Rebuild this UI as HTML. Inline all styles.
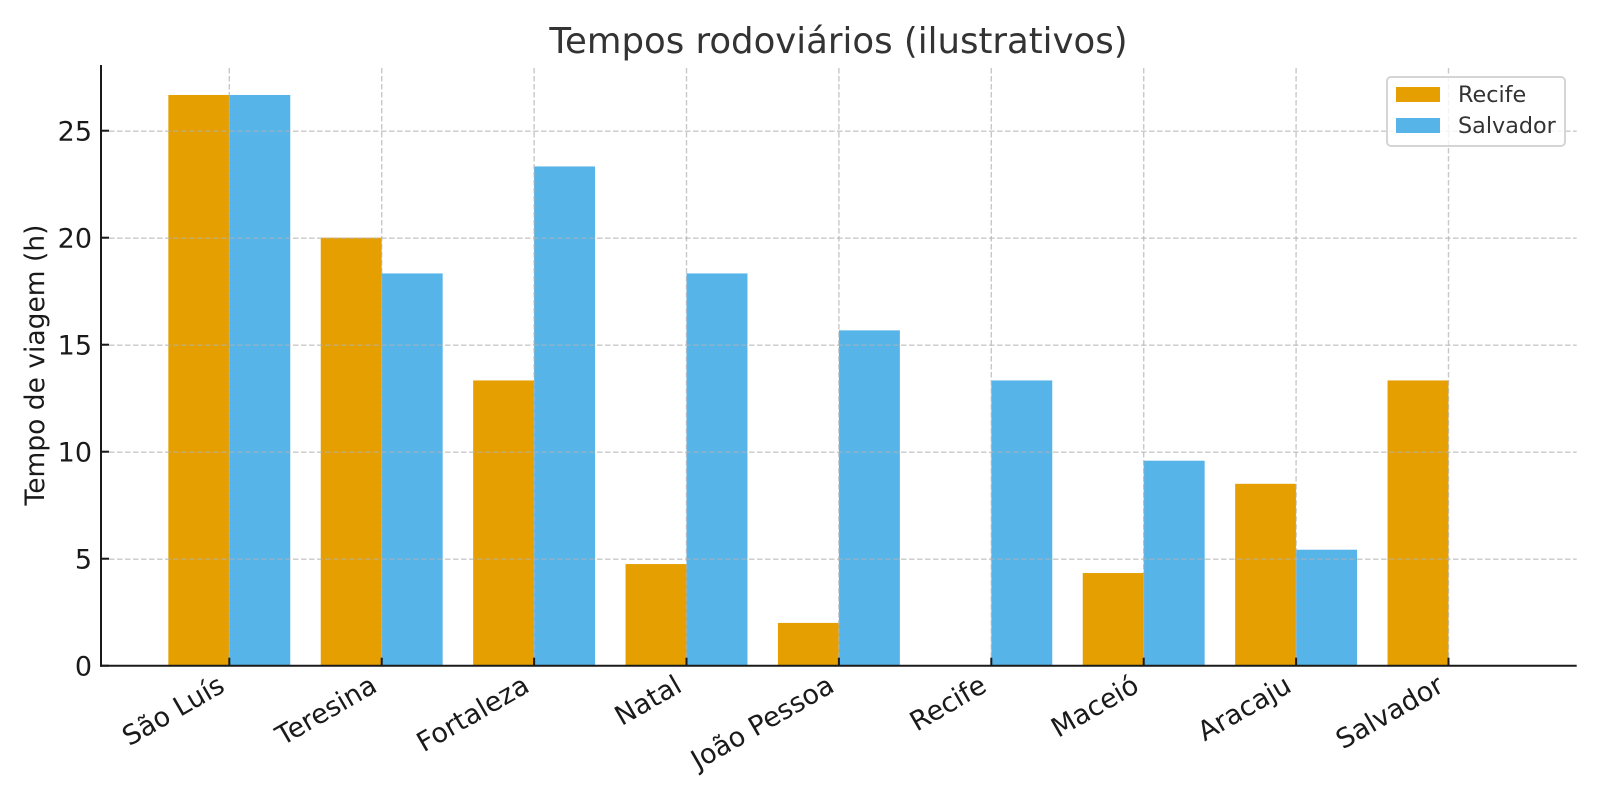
<!DOCTYPE html>
<html lang="pt">
<head>
<meta charset="utf-8">
<title>Tempos rodoviários (ilustrativos)</title>
<style>
html,body{margin:0;padding:0;background:#fff;width:1600px;height:800px;overflow:hidden}
svg{display:block}
text{font-family:"DejaVu Sans","Liberation Sans",sans-serif}
</style>
</head>
<body>
<svg id="chart" xmlns="http://www.w3.org/2000/svg" width="1600" height="800" viewBox="0 0 1600 800">
  <rect x="0" y="0" width="1600" height="800" fill="#ffffff"/>
  <g id="bars"></g>
  <g id="grid"></g>
  <g id="ticks"></g>
  <line x1="101" y1="65" x2="101" y2="666.7" stroke="#1a1a1a" stroke-width="2"/>
  <line x1="100" y1="665.7" x2="1576.7" y2="665.7" stroke="#1a1a1a" stroke-width="2"/>
  <text x="838.5" y="53" font-size="35.5" fill="#333333" text-anchor="middle">Tempos rodoviários (ilustrativos)</text>
  <text transform="translate(44,365) rotate(-90)" font-size="26.5" fill="#1a1a1a" text-anchor="middle">Tempo de viagem (h)</text>
  <g>
    <rect x="1387" y="77" width="178" height="69" rx="4" ry="4" fill="#ffffff" fill-opacity="0.8" stroke="#d5d5d5" stroke-width="2"/>
    <rect x="1396" y="87" width="44" height="15" fill="#E69F00"/>
    <text x="1458" y="102" font-size="22.3" fill="#333333">Recife</text>
    <rect x="1396" y="118" width="44" height="15" fill="#56B4E9"/>
    <text x="1458" y="133" font-size="22.3" fill="#333333">Salvador</text>
  </g>
</svg>
<script>
const categories = ["São Luís", "Teresina", "Fortaleza", "Natal", "João Pessoa", "Recife", "Maceió", "Aracaju", "Salvador"];
const recifeHours = [26.67, 20, 13.33, 4.75, 2, 0, 4.33, 8.5, 13.33];
const salvadorHours = [26.67, 18.33, 23.33, 18.33, 15.67, 13.33, 9.58, 5.42, 0];
const yTickValues = [0, 5, 10, 15, 20, 25];

const NS = "http://www.w3.org/2000/svg";
const xScale = function (i) { return 229.3 + i * 152.4; };
const yScale = function (v) { return 665.7 - v * 21.4; };
const barWidth = 0.4 * 152.4;

function make(tag, parentId, props) {
  const el = document.createElementNS(NS, tag);
  Object.keys(props).forEach(function (k) { el.setAttribute(k, props[k]); });
  document.getElementById(parentId).appendChild(el);
  return el;
}

categories.forEach(function (cat, i) {
  const slug = cat.toLowerCase().normalize("NFD").replace(/[\u0300-\u036f]/g, "").replace(/\s+/g, "-");
  const cx = xScale(i);

  const r = make("rect", "bars", { x: cx - barWidth, y: yScale(recifeHours[i]), width: barWidth, height: yScale(0) - yScale(recifeHours[i]), fill: "#E69F00" });
  
  

  const s = make("rect", "bars", { x: cx, y: yScale(salvadorHours[i]), width: barWidth, height: yScale(0) - yScale(salvadorHours[i]), fill: "#56B4E9" });
  
  

  const g = make("line", "grid", { x1: cx, x2: cx, y1: 68, y2: yScale(0), stroke: "#b0b0b0", "stroke-opacity": 0.7, "stroke-width": 1.4, "stroke-dasharray": "5.5 2.5" });
  
  

  const t = make("line", "ticks", { x1: cx, x2: cx, y1: yScale(0), y2: yScale(0) - 8, stroke: "#1a1a1a", "stroke-width": 2 });
  
  

  const l = make("text", "ticks", { transform: "translate(" + (cx - 3) + ",690.5) rotate(-30)", "font-size": 27, fill: "#1a1a1a", "text-anchor": "end" });
  l.textContent = cat;
  
  
});

yTickValues.forEach(function (v) {
  const y = yScale(v);
  if (v > 0) {
    const g = make("line", "grid", { x1: 101, x2: 1576.7, y1: y + 0.5, y2: y + 0.5, stroke: "#b0b0b0", "stroke-opacity": 0.7, "stroke-width": 1.4, "stroke-dasharray": "5.5 2.5" });
    
    
  }
  const t = make("line", "ticks", { x1: 101, x2: 109, y1: y, y2: y, stroke: "#1a1a1a", "stroke-width": 2 });
  
  

  const l = make("text", "ticks", { x: 92, y: y + 10, "font-size": 27, fill: "#1a1a1a", "text-anchor": "end" });
  l.textContent = String(v);
  
  
});
</script>
</body>
</html>
